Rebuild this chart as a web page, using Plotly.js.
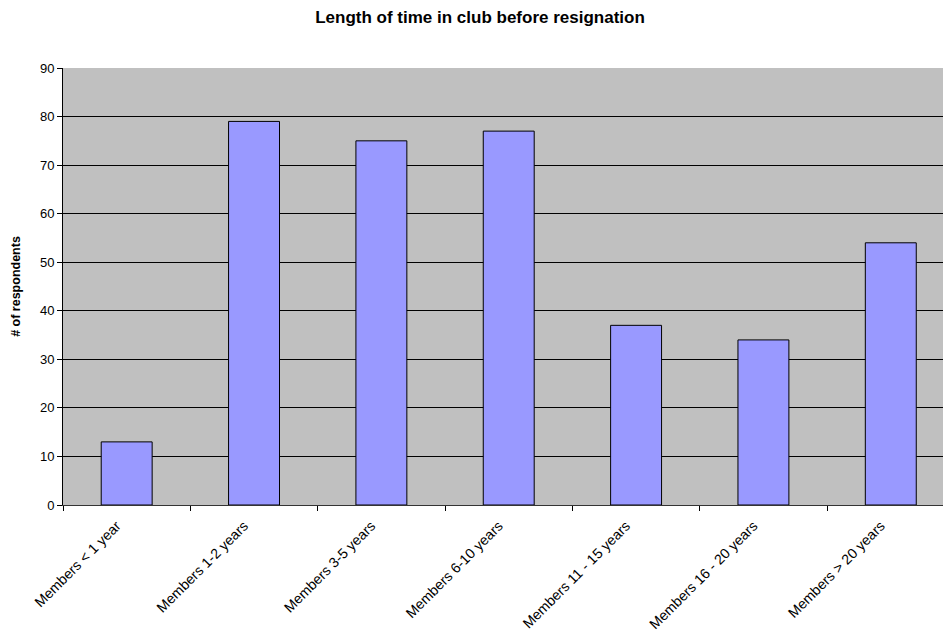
<!DOCTYPE html>
<html>
<head>
<meta charset="utf-8">
<script src="https://cdn.plot.ly/plotly-3.0.1.min.js"></script>
<style>html,body{margin:0;padding:0;background:#fff;}#chart{width:943px;height:634px;}</style>
</head>
<body>
<div id="chart"></div>
<script>
const categories = ["Members < 1 year", "Members 1-2 years", "Members 3-5 years", "Members 6-10 years", "Members 11 - 15 years", "Members 16 - 20 years", "Members > 20 years"];
const respondents = [13, 79, 75, 77, 37, 34, 54];
const yTicks = [0, 10, 20, 30, 40, 50, 60, 70, 80, 90];

const trace = {
  type: "bar",
  x: categories,
  y: respondents,
  marker: {color: "#9999FF", line: {color: "#000000", width: 1}},
  hoverinfo: "x+y"
};

const layout = {
  width: 943, height: 634,
  margin: {l: 63, r: 0, t: 67.5, b: 129.3},
  paper_bgcolor: "#ffffff",
  plot_bgcolor: "#C0C0C0",
  bargap: 0.6,
  showlegend: false,
  font: {family: "Liberation Sans, Arial, sans-serif", size: 13, color: "#000"},
  title: {text: "<b>Length of time in club before resignation</b>", font: {size: 17}, x: 0.509, xanchor: "center", y: 0.973, yanchor: "middle"},
  xaxis: {
    type: "category",
    range: [-0.5, 6.41],
    tickangle: -45,
    ticks: "outside", ticklen: 5, tickcolor: "#000",
    tickson: "boundaries",
    ticklabelstandoff: 6,
    ticklabelshift: -10,
    showgrid: false,
    showline: true, linecolor: "#333", linewidth: 1,
    tickfont: {size: 14.2},
    fixedrange: true
  },
  yaxis: {
    range: [0, 90],
    tickvals: yTicks,
    ticks: "outside", ticklen: 5, tickcolor: "#000",
    showgrid: true, gridcolor: "#000", gridwidth: 1,
    zeroline: false,
    showline: true, linecolor: "#000", linewidth: 1,
    tickfont: {size: 13},
    title: {text: "<b># of respondents</b>", font: {size: 12.5}, standoff: 16},
    fixedrange: true
  }
};

Plotly.newPlot("chart", [trace], layout, {displayModeBar: false, staticPlot: true});
</script>
</body>
</html>
